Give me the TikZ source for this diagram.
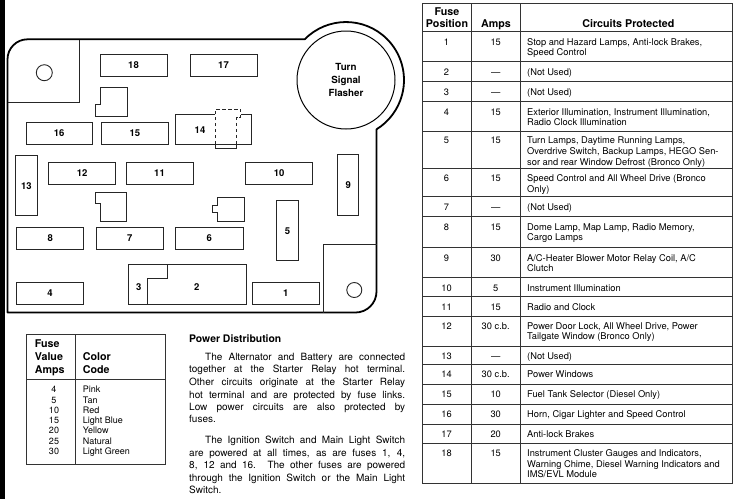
\documentclass[tikz,border=0pt]{standalone}
\usepackage{fontspec}
\setmainfont{TeX Gyre Heros}
\newcommand\fusebox[6]{%
  \draw[fuse] (#2,#3) rectangle (#4,#5);
  \node[flabel] (#1) at ({(#2+#4)/2},{(#3+#5)/2}) {#6};}
\newcommand\frow[6]{%
  \node[numc] (fp#2) at (446.5,{#1+13.6}) {#2};
  \node[numc] (fa#2) at (495.7,{#1+13.6}) {#3};
  \node[txtc] (fc#2a) at (527,{#1+13.6}) {#4};
  \node[txtc] (fc#2b) at (527,{#1+23.9}) {#5};
  \node[txtc] (fc#2c) at (527,{#1+34.2}) {#6};}
\newcommand\crow[3]{%
  \node[cnum] (cv#1) at (54,#3) {#1};
  \node[ctxt] (cc#1) at (82.7,#3) {#2};}
\begin{document}
\begin{tikzpicture}[x=1pt,y=-1pt,
  outline/.style={line width=1.8pt, line join=round, draw=black},
  fuse/.style={line width=0.9pt, draw=black!85},
  flabel/.style={font=\bfseries\fontsize{9.5}{11}\selectfont, inner sep=0pt},
  tline/.style={line width=0.9pt, draw=black!80},
  hdr/.style={font=\bfseries\fontsize{10.7}{12}\selectfont, inner sep=0pt, anchor=base},
  hdrl/.style={font=\bfseries\fontsize{10.7}{12}\selectfont, inner sep=0pt, anchor=base west},
  numc/.style={font=\fontsize{9.3}{10}\selectfont, inner sep=0pt, anchor=base},
  txtc/.style={font=\fontsize{9.3}{10}\selectfont, inner sep=0pt, anchor=base west},
  cnum/.style={font=\fontsize{9}{10}\selectfont, inner sep=0pt, anchor=base},
  ctxt/.style={font=\fontsize{9}{10}\selectfont, inner sep=0pt, anchor=base west},
  ptxt/.style={font=\fontsize{10}{12}\selectfont, inner sep=0pt, anchor=base west},
  ptitle/.style={font=\bfseries\fontsize{10.4}{12}\selectfont, inner sep=0pt, anchor=base west}]
\useasboundingbox (0,0) rectangle (736,499);
\fill[white] (0,0) rectangle (736,499);
\fill[black] (0,0) rectangle (5,499);
% ---------- fuse box outline ----------
\draw[outline] (7.5,312.5) -- (7.5,59.3) arc[start angle=180,end angle=270,radius=20]
  -- (304.7,39.3) arc[start angle=-135.4,end angle=58.3,radius=58]
  -- (376.5,291.5) arc[start angle=0,end angle=90,radius=21] -- cycle;
\node[circle, draw, line width=1pt, minimum size=98pt, inner sep=0pt, align=center,
  font=\bfseries\fontsize{9.8}{12.8}\selectfont] (flasher) at (346,80) {Turn\\Signal\\Flasher};
% corner squares
\draw[fuse] (7.5,102) -- (79,102) -- (79,40);
\draw[fuse] (44.3,72.7) circle[radius=8];
\draw[fuse] (323.5,312.5) -- (323.5,244.5) -- (376.5,244.5);
\draw[fuse] (354.3,290) circle[radius=7.5];
% fuses
\fusebox{f18}{100}{54.3}{167}{76}{18}
\fusebox{f17}{190}{54.3}{257}{76}{17}
\fusebox{f16}{26}{122.3}{92.3}{144}{16}
\fusebox{f15}{101.3}{122.3}{168.3}{144}{15}
\fusebox{f13}{15.7}{155.7}{37}{215.7}{13}
\fusebox{f12}{48.7}{162.7}{115.7}{184.3}{12}
\fusebox{f11}{126}{162.7}{193}{184.3}{11}
\fusebox{f10}{245.7}{162.7}{312.7}{184.3}{10}
\fusebox{f9}{337.7}{154.3}{358.7}{215}{9}
\fusebox{f8}{16.7}{227.3}{83.7}{249}{8}
\fusebox{f7}{96.3}{227.3}{163.3}{249}{7}
\fusebox{f6}{175.7}{227.3}{243}{249}{6}
\fusebox{f5}{276.7}{200.7}{298.3}{260.7}{5}
\fusebox{f4}{16.7}{282.3}{83.3}{304}{4}
\fusebox{f1}{252.3}{282.3}{319.3}{304}{1}
% fuse 14 with dashed relay outline
\draw[fuse] (215,114) -- (175.7,114) -- (175.7,144) -- (251.7,144) -- (251.7,114) -- (240.7,114);
\draw[fuse, dash pattern=on 3.5pt off 2.5pt] (215,144) -- (215,109.3) -- (240.7,109.3) -- (240.7,117) -- (236.7,117) -- (236.7,144);
\draw[fuse] (215,144) -- (215,148.3) -- (236.7,148.3) -- (236.7,144);
\node[flabel] (f14) at (200,130) {14};
% fuses 2 and 3
\draw[fuse] (128.7,264) rectangle (246,304);
\draw[fuse] (167.7,264) -- (167.7,278.3) -- (147.7,278.3) -- (147.7,304);
\node[flabel] (f3) at (138.7,286.7) {3};
\node[flabel] (f2) at (196.7,286.7) {2};
% connectors
\draw[fuse] (100.7,87.3) -- (127,87.3) -- (127,116) -- (95,116) -- (95,104) -- (100.7,104) -- cycle;
\draw[fuse] (95,192.3) -- (126.7,192.3) -- (126.7,221) -- (100,221) -- (100,203.3) -- (95,203.3) -- cycle;
\draw[fuse] (217.3,197.3) -- (244.7,197.3) -- (244.7,221) -- (217.3,221) -- (217.3,212.7) -- (212.3,212.7) -- (212.3,205) -- (217.3,205) -- cycle;
% ---------- right table ----------
\draw[tline] (422.5,3) rectangle (732,483.3);
\draw[tline] (471.5,3) -- (471.5,483.3);
\draw[tline] (520,3) -- (520,483.3);
\foreach \yy in {31.7,61.7,81.7,101.7,131.7,168.3,196.7,216.7,247.5,277.7,296.7,316,346,364.3,384.3,404.3,424,443.3}
  \draw[tline] (422.5,\yy) -- (732,\yy);
\node[hdr] (hfuse) at (447,15.5) {Fuse};
\node[hdr] (hpos) at (447,27.8) {Position};
\node[hdr] (hamps) at (496,27.8) {Amps};
\node[hdr] (hcirc) at (628.3,27.8) {Circuits Protected};
\frow{31.7}{1}{15}{Stop and Hazard Lamps, Anti-lock Brakes,}{Speed Control}{}
\frow{61.7}{2}{—}{(Not Used)}{}{}
\frow{81.7}{3}{—}{(Not Used)}{}{}
\frow{101.7}{4}{15}{Exterior Illumination, Instrument Illumination,}{Radio Clock Illumination}{}
\node[numc] (fp5) at (446.5,143.3) {5};
\node[numc] (fa5) at (495.7,143.3) {15};
\node[txtc] (fc5a) at (527,143.3) {Turn Lamps, Daytime Running Lamps,};
\node[txtc] (fc5b) at (527,154.3) {Overdrive Switch, Backup Lamps, HEGO Sen-};
\node[txtc] (fc5c) at (527,165) {sor and rear Window Defrost (Bronco Only)};
\frow{168.3}{6}{15}{Speed Control and All Wheel Drive (Bronco}{Only)}{}
\frow{196.7}{7}{—}{(Not Used)}{}{}
\frow{216.7}{8}{15}{Dome Lamp, Map Lamp, Radio Memory,}{Cargo Lamps}{}
\frow{247.5}{9}{30}{A/C-Heater Blower Motor Relay Coil, A/C}{Clutch}{}
\frow{277.7}{10}{5}{Instrument Illumination}{}{}
\frow{296.7}{11}{15}{Radio and Clock}{}{}
\frow{316}{12}{30 c.b.}{Power Door Lock, All Wheel Drive, Power}{Tailgate Window (Bronco Only)}{}
\frow{346}{13}{—}{(Not Used)}{}{}
\frow{364.3}{14}{30 c.b.}{Power Windows}{}{}
\frow{384.3}{15}{10}{Fuel Tank Selector (Diesel Only)}{}{}
\frow{404.3}{16}{30}{Horn, Cigar Lighter and Speed Control}{}{}
\frow{424}{17}{20}{Anti-lock Brakes}{}{}
\frow{443.3}{18}{15}{Instrument Cluster Gauges and Indicators,}{Warning Chime, Diesel Warning Indicators and}{IMS/EVL Module}
% ---------- colour code table ----------
\draw[tline] (26,334) rectangle (165.7,464);
\draw[tline] (75.7,334) -- (75.7,464);
\draw[tline] (26,379.3) -- (165.7,379.3);
\node[hdrl] (cfuse) at (34.7,347.8) {Fuse};
\node[hdrl] (cvalue) at (34.7,360.5) {Value};
\node[hdrl] (camps) at (34.7,373.8) {Amps};
\node[hdrl] (ccolor) at (82.7,360.5) {Color};
\node[hdrl] (ccode) at (82.7,373.8) {Code};
\crow{4}{Pink}{392.6}
\crow{5}{Tan}{403.1}
\crow{10}{Red}{413.4}
\crow{15}{Light Blue}{423.6}
\crow{20}{Yellow}{433.8}
\crow{25}{Natural}{444.1}
\crow{30}{Light Green}{454.3}
% ---------- power distribution ----------
\node[ptitle] (ptitle) at (189,342) {Power Distribution};
\node[ptxt] (p1a) at (205,360.3) {\makebox[200pt][s]{The Alternator and Battery are connected}};
\node[ptxt] (p1b) at (189,372.9) {\makebox[216pt][s]{together at the Starter Relay hot terminal.}};
\node[ptxt] (p1c) at (189,385.6) {\makebox[216pt][s]{Other circuits originate at the Starter Relay}};
\node[ptxt] (p1d) at (189,398.3) {\makebox[216pt][s]{hot terminal and are protected by fuse links.}};
\node[ptxt] (p1e) at (189,410.9) {\makebox[216pt][s]{Low power circuits are also protected by}};
\node[ptxt] (p1f) at (189,422.9) {fuses.};
\node[ptxt] (p2a) at (205,443.6) {\makebox[200pt][s]{The Ignition Switch and Main Light Switch}};
\node[ptxt] (p2b) at (189,456.1) {\makebox[216pt][s]{are powered at all times, as are fuses 1, 4,}};
\node[ptxt] (p2c) at (189,468.6) {\makebox[216pt][s]{8, 12 and 16. The other fuses are powered}};
\node[ptxt] (p2d) at (189,481.1) {\makebox[216pt][s]{through the Ignition Switch or the Main Light}};
\node[ptxt] (p2e) at (189,493.6) {Switch.};
\end{tikzpicture}
\end{document}
